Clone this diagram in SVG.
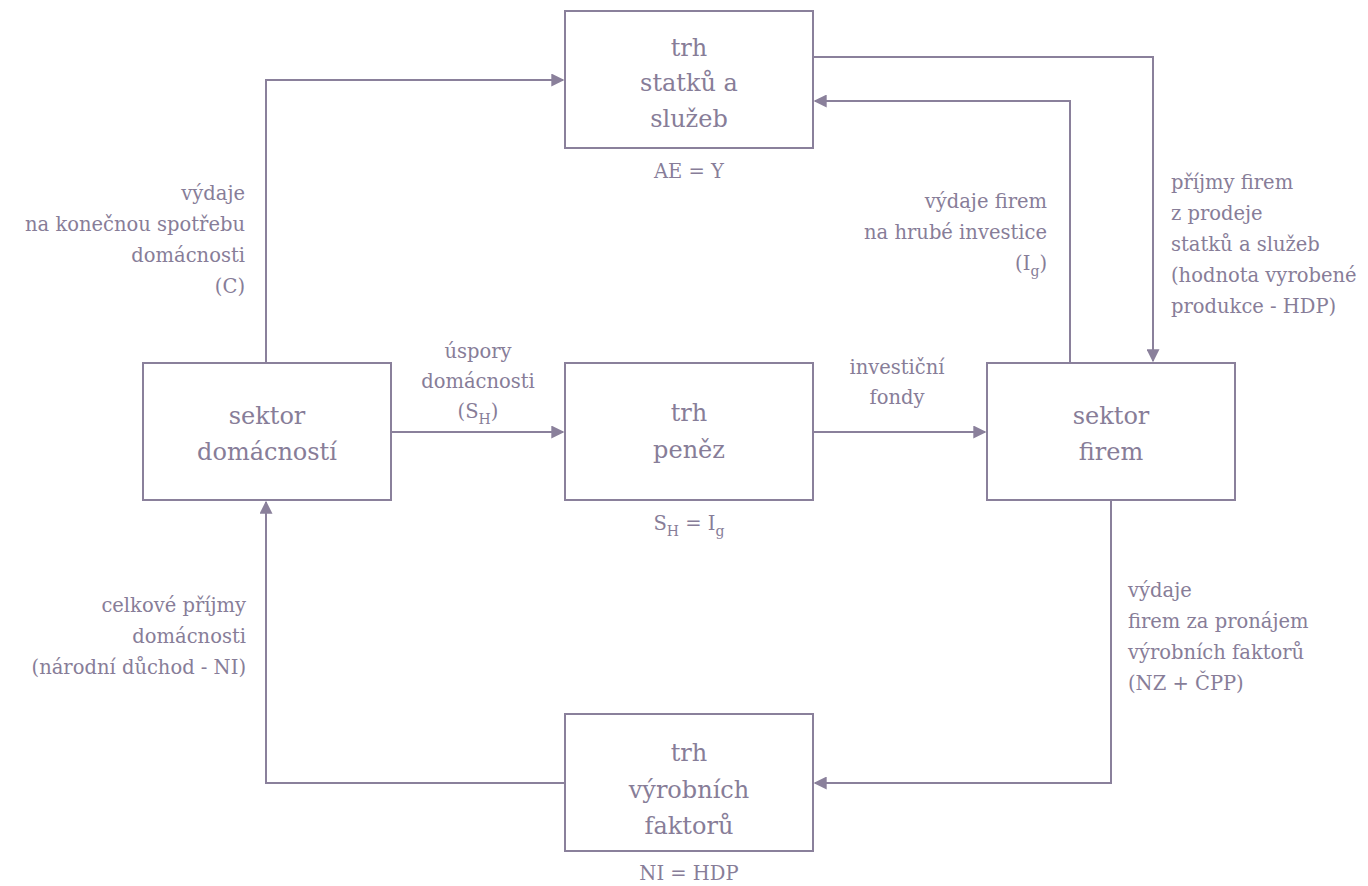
<svg xmlns="http://www.w3.org/2000/svg" width="1368" height="886" viewBox="0 0 1368 886">
<style>
.box{fill:#fff;stroke:#8a809b;stroke-width:2}
.c{fill:none;stroke:#8a809b;stroke-width:2}
text{font-family:"DejaVu Serif","Liberation Serif",serif;fill:#877d98}
.n{font-size:24px;text-anchor:middle}
.l{font-size:19.5px}
.m{text-anchor:middle}
.r{text-anchor:end}
.s{font-size:14px}
</style>
<defs>
<marker id="a" viewBox="0 0 10 10" refX="9" refY="5" markerWidth="13" markerHeight="13" markerUnits="userSpaceOnUse" orient="auto"><path d="M0,0L10,5L0,10z" fill="#8a809b"/></marker>
</defs>
<rect width="1368" height="886" fill="#fff"/>
<g id="connectors">
<path class="c" d="M266,363V80H563" marker-end="url(#a)"/>
<path class="c" d="M813,57H1153V361" marker-end="url(#a)"/>
<path class="c" d="M1070,363V101H815" marker-end="url(#a)"/>
<path class="c" d="M391,432H563" marker-end="url(#a)"/>
<path class="c" d="M813,432H985" marker-end="url(#a)"/>
<path class="c" d="M1111,500V783H815" marker-end="url(#a)"/>
<path class="c" d="M565,783H266V502" marker-end="url(#a)"/>
</g>
<g id="n-goods">
<rect class="box" x="565" y="11" width="248" height="137"/>
<text class="n" x="689" y="56">trh</text>
<text class="n" x="689" y="91">statků a</text>
<text class="n" x="689" y="127">služeb</text>
<text class="l m" x="689" y="178">AE = Y</text>
</g>
<g id="n-households">
<rect class="box" x="143" y="363" width="248" height="137"/>
<text class="n" x="267" y="424">sektor</text>
<text class="n" x="267" y="460">domácností</text>
</g>
<g id="n-money">
<rect class="box" x="565" y="363" width="248" height="137"/>
<text class="n" x="689" y="421">trh</text>
<text class="n" x="689" y="458">peněz</text>
<text class="l m" x="689" y="530">S<tspan class="s" dy="6">H</tspan><tspan dy="-6"> = I</tspan><tspan class="s" dy="6">g</tspan></text>
</g>
<g id="n-firms">
<rect class="box" x="987" y="363" width="248" height="137"/>
<text class="n" x="1111" y="424">sektor</text>
<text class="n" x="1111" y="460">firem</text>
</g>
<g id="n-factors">
<rect class="box" x="565" y="714" width="248" height="137"/>
<text class="n" x="689" y="761">trh</text>
<text class="n" x="689" y="798">výrobních</text>
<text class="n" x="689" y="834">faktorů</text>
<text class="l m" x="689" y="880">NI = HDP</text>
</g>
<g id="labels">
<text class="l r" x="245" y="200">výdaje</text>
<text class="l r" x="245" y="231">na konečnou spotřebu</text>
<text class="l r" x="245" y="262">domácnosti</text>
<text class="l r" x="245" y="293">(C)</text>
<text class="l r" x="1047" y="208">výdaje firem</text>
<text class="l r" x="1047" y="239">na hrubé investice</text>
<text class="l r" x="1047" y="270">(I<tspan class="s" dy="6">g</tspan><tspan dy="-6">)</tspan></text>
<text class="l" x="1171" y="189">příjmy firem</text>
<text class="l" x="1171" y="220">z prodeje</text>
<text class="l" x="1171" y="251">statků a služeb</text>
<text class="l" x="1171" y="282">(hodnota vyrobené</text>
<text class="l" x="1171" y="313">produkce - HDP)</text>
<text class="l m" x="478" y="358">úspory</text>
<text class="l m" x="478" y="388">domácnosti</text>
<text class="l m" x="478" y="418">(S<tspan class="s" dy="6">H</tspan><tspan dy="-6">)</tspan></text>
<text class="l m" x="897" y="374">investiční</text>
<text class="l m" x="897" y="404">fondy</text>
<text class="l" x="1128" y="597">výdaje</text>
<text class="l" x="1128" y="628">firem za pronájem</text>
<text class="l" x="1128" y="659">výrobních faktorů</text>
<text class="l" x="1128" y="690">(NZ + ČPP)</text>
<text class="l r" x="246" y="612">celkové příjmy</text>
<text class="l r" x="246" y="643">domácnosti</text>
<text class="l r" x="246" y="674">(národní důchod - NI)</text>
</g>
</svg>
